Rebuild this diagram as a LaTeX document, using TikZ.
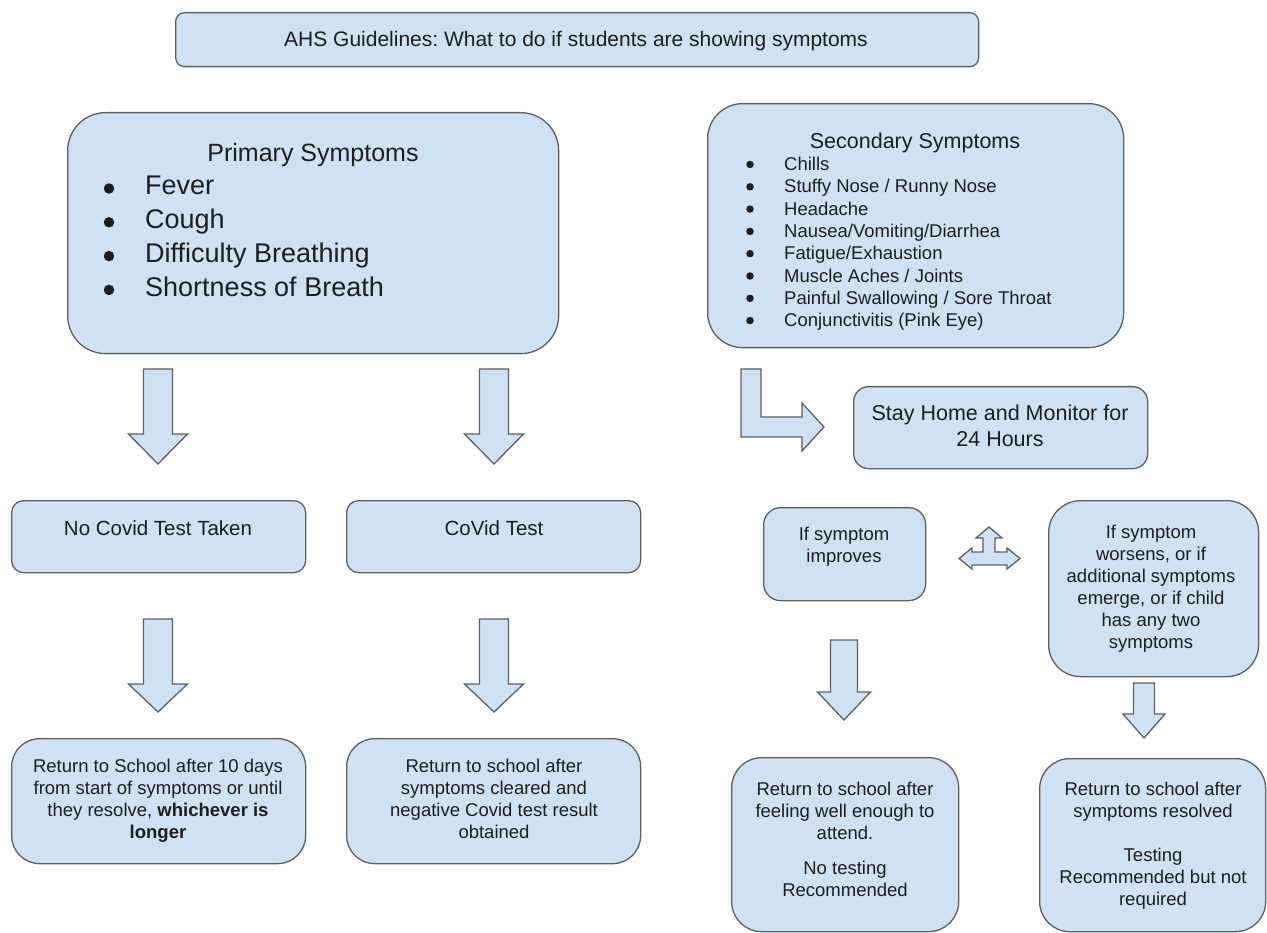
\documentclass[tikz,border=0pt]{standalone}
\usepackage{fontspec}
\setmainfont{Liberation Sans}
\frenchspacing
\usetikzlibrary{calc}
\definecolor{boxfill}{HTML}{CFE2F3}
\definecolor{boxline}{HTML}{5F5F5F}
\definecolor{txt}{HTML}{1E1E1E}
\newcommand{\fsz}[2]{\fontsize{#1}{#2}\selectfont}
\newcommand{\blkdown}[6]{% cx, top, headbase, tip, shafthalf, headhalf
  \draw[blk] (#1-#5,#2) -- (#1+#5,#2) -- (#1+#5,#3) -- (#1+#6,#3) -- (#1,#4) -- (#1-#6,#3) -- (#1-#5,#3) -- cycle;}
\tikzset{
  box/.style={draw=boxline, fill=boxfill, line width=1.3pt, anchor=north west, inner sep=0pt},
  blk/.style={draw=boxline, fill=boxfill, line width=1.3pt, line join=miter},
  lbl/.style={text=txt, align=center, inner sep=0pt},
  itm/.style={text=txt, inner sep=0pt, anchor=base west},
  dot/.style={circle, fill=txt, inner sep=0pt, minimum size=#1},
}
\begin{document}
\begin{tikzpicture}[x=1pt,y=-1pt]
\useasboundingbox (0,0) rectangle (1267,933);
% ---------- boxes ----------
\node[box, rounded corners=9,  minimum width=803, minimum height=54]  (title)    at (175,12)  {};
\node[box, rounded corners=38, minimum width=491, minimum height=241] (primary)  at (67,112)  {};
\node[box, rounded corners=35, minimum width=416, minimum height=244] (second)   at (707,103) {};
\node[box, rounded corners=12, minimum width=294, minimum height=72]  (nocovid)  at (11,500)  {};
\node[box, rounded corners=12, minimum width=294, minimum height=72]  (covid)    at (346,500) {};
\node[box, rounded corners=28, minimum width=294, minimum height=125] (retL)     at (11,738)  {};
\node[box, rounded corners=28, minimum width=294, minimum height=125] (retM)     at (346,738) {};
\node[box, rounded corners=15, minimum width=294, minimum height=82]  (stay)     at (853,386) {};
\node[box, rounded corners=17, minimum width=162, minimum height=93]  (improves) at (763,507) {};
\node[box, rounded corners=32, minimum width=210, minimum height=176] (worsens)  at (1048,500) {};
\node[box, rounded corners=30, minimum width=227, minimum height=174] (retR1)    at (731,757) {};
\node[box, rounded corners=30, minimum width=226, minimum height=173] (retR2)    at (1039,758) {};
% ---------- texts ----------
\node[lbl, anchor=base, font=\fsz{21}{25}] (titletxt) at (576,47) {AHS Guidelines: What to do if students are showing symptoms};
% primary
\node[lbl, anchor=base, font=\fsz{25}{30}] (primtitle) at (313,161.5) {Primary Symptoms};
\foreach \t [count=\i] in {Fever,Cough,Difficulty Breathing,Shortness of Breath}{
  \node[itm, font=\fsz{27}{32}] (p\i) at (145,{195+33.8*(\i-1)}) {\t};
  \node[dot=10.5] (pb\i) at (109,{188.5+33.8*(\i-1)}) {};
}
% secondary
\node[lbl, anchor=base, font=\fsz{21.5}{26}] (sectitle) at (915,148.3) {Secondary Symptoms};
\foreach \t [count=\i] in {Chills,Stuffy Nose / Runny Nose,Headache,Nausea/Vomiting/Diarrhea,Fatigue/Exhaustion,Muscle Aches / Joints,Painful Swallowing / Sore Throat,Conjunctivitis (Pink Eye)}{
  \node[itm, font=\fsz{18.5}{22}] (s\i) at (784,{170.7+22.3*(\i-1)}) {\t};
  \node[dot=7.5] (sb\i) at (750,{164.5+22.3*(\i-1)}) {};
}
\node[lbl, anchor=base, font=\fsz{20.5}{24.6}] (nocovidtxt) at (158,535) {No Covid Test Taken};
\node[lbl, anchor=base, font=\fsz{20.5}{24.6}] (covidtxt) at (494,535) {CoVid Test};
\node[lbl, anchor=north, font=\fsz{18.5}{22.2}] (retLtxt) at (158,758.4)
  {Return to School after 10 days\\from start of symptoms or until\\they resolve, \textbf{whichever is}\\\textbf{longer}};
\node[lbl, anchor=north, font=\fsz{18.5}{22.2}] (retMtxt) at (494,758.4)
  {Return to school after\\symptoms cleared and\\negative Covid test result\\obtained};
\node[lbl, anchor=north, font=\fsz{21.5}{26}] (staytxt) at (1000,404.5)
  {Stay Home and Monitor for\\24 Hours};
\node[lbl, anchor=north, font=\fsz{18.5}{22.3}] (improvestxt) at (844,526.5)
  {If symptom\\improves};
\node[lbl, anchor=north, font=\fsz{18.5}{22}] (worsenstxt) at (1151,524.5)
  {If symptom\\worsens, or if\\additional symptoms\\emerge, or if child\\has any two\\symptoms};
\node[lbl, anchor=north, font=\fsz{18.5}{22}] (retR1txt) at (845,781.5)
  {Return to school after\\feeling well enough to\\attend.\\[13pt]No testing\\Recommended};
\node[lbl, anchor=north, font=\fsz{18.5}{22}] (retR2txt) at (1153,781.5)
  {Return to school after\\symptoms resolved\\[22pt]Testing\\Recommended but not\\required};
% ---------- block arrows ----------
\blkdown{158}{369}{434}{464}{14.5}{29.5}
\blkdown{494}{369}{434}{464}{14.5}{29.5}
\blkdown{158}{619}{684}{712}{14.5}{29.5}
\blkdown{494}{619}{684}{712}{14.5}{29.5}
\blkdown{844}{640}{692}{720}{13.5}{26.5}
\blkdown{1144}{683}{714}{738}{10.5}{21}
% L-shaped arrow
\draw[blk] (741,369) -- (761,369) -- (761,417) -- (802,417) -- (802,403) -- (824,427)
  -- (802,451) -- (802,437) -- (741,437) -- cycle;
% three-way arrow
\draw[blk] (989,527) -- (1002,538) -- (995,538) -- (995,552) -- (1007,552) -- (1007,548)
  -- (1020,558.5) -- (1007,569) -- (1007,565) -- (972,565) -- (972,569) -- (959,558.5)
  -- (972,548) -- (972,552) -- (983,552) -- (983,538) -- (976,538) -- cycle;
\end{tikzpicture}
\end{document}
